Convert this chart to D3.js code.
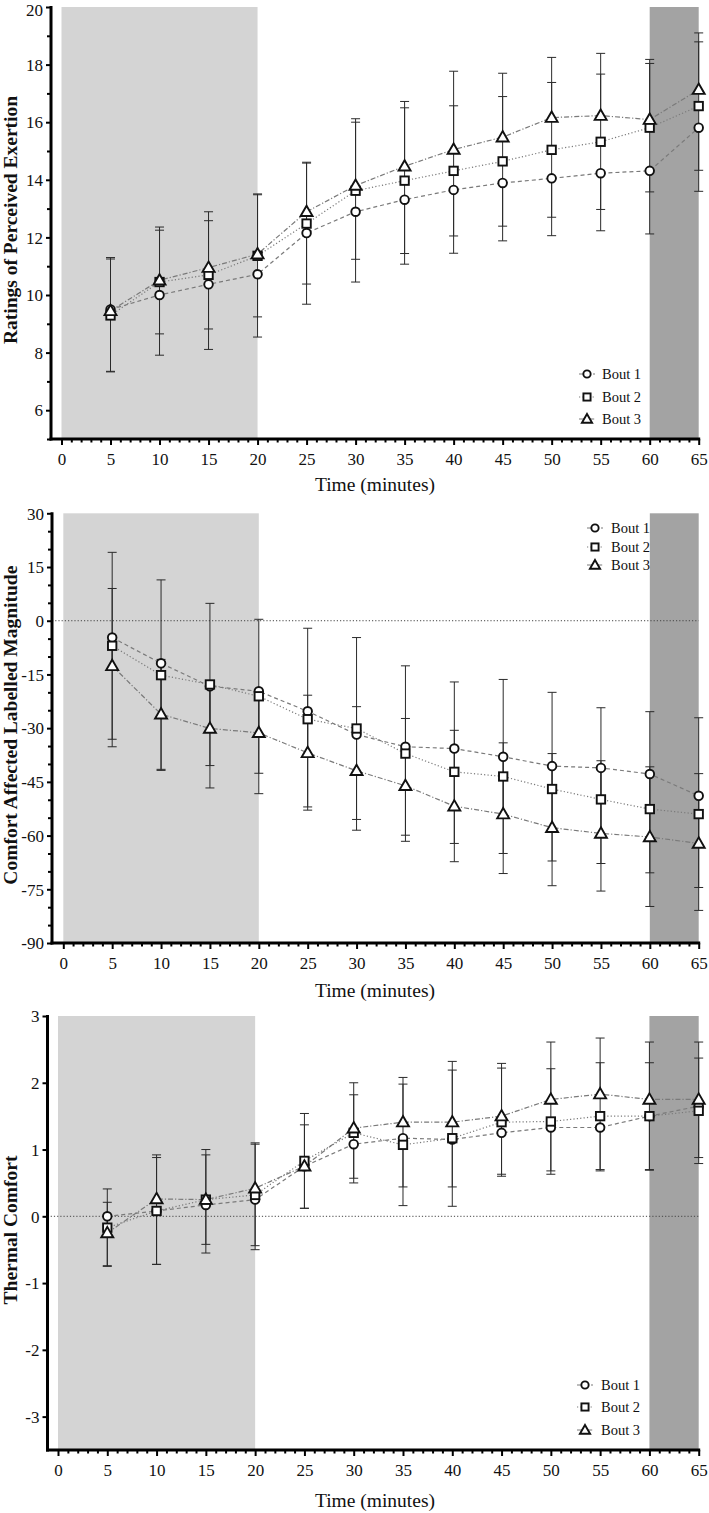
<!DOCTYPE html>
<html>
<head>
<meta charset="utf-8">
<script src="https://cdn.jsdelivr.net/npm/d3@7"></script>
<style>
  html, body { margin: 0; padding: 0; background: #fff; }
  svg { display: block; }
  text { font-family: "Liberation Serif", "Times New Roman", serif; fill: #111; }
</style>
</head>
<body>
<svg id="chart" width="709" height="1513"></svg>
<script>
// ---------- DATA ----------
const times = [5, 10, 15, 20, 25, 30, 35, 40, 45, 50, 55, 60, 65];
const seriesNames = ["Bout 1", "Bout 2", "Bout 3"];

// Ratings of Perceived Exertion
const rpeBout1 = [9.5, 10.0, 10.37, 10.72, 12.15, 12.89, 13.31, 13.65, 13.89, 14.05, 14.23, 14.31, 15.81];
const rpeBout2 = [9.29, 10.45, 10.7, 11.36, 12.48, 13.62, 13.97, 14.31, 14.64, 15.04, 15.32, 15.81, 16.56];
const rpeBout3 = [9.45, 10.51, 10.95, 11.42, 12.89, 13.8, 14.47, 15.05, 15.48, 16.16, 16.23, 16.09, 17.13];
const rpeSd1 = [2.15, 2.09, 2.26, 2.18, 2.47, 2.44, 2.24, 2.2, 2.01, 1.99, 2.0, 2.19, 2.21];
const rpeSd2 = [1.96, 1.8, 1.88, 2.12, 2.1, 2.38, 2.53, 2.26, 2.25, 2.34, 2.35, 2.23, 2.23];
const rpeSd3 = [1.85, 1.85, 1.94, 2.09, 1.72, 2.32, 2.25, 2.72, 2.22, 2.09, 2.16, 2.09, 1.97];
const rpeTicks = [6, 8, 10, 12, 14, 16, 18, 20];

// Comfort Affected Labelled Magnitude
const calmBout1 = [-4.7, -11.9, -18.3, -19.7, -25.3, -31.8, -35.2, -35.7, -38.0, -40.6, -41.1, -42.8, -48.9];
const calmBout2 = [-7.0, -15.2, -17.8, -21.1, -27.5, -30.1, -37.1, -42.2, -43.5, -47.0, -49.9, -52.6, -54.0];
const calmBout3 = [-12.6, -26.1, -30.1, -31.3, -36.9, -41.9, -46.1, -51.8, -54.0, -57.8, -59.4, -60.4, -62.2];
const calmSd1 = [30.5, 29.6, 28.4, 28.6, 26.7, 26.7, 24.7, 26.5, 27.0, 26.5, 26.7, 27.6, 25.6];
const calmSd2 = [26.1, 26.6, 22.65, 21.5, 25.4, 25.4, 24.5, 25.1, 27.1, 27.0, 25.6, 27.2, 26.9];
const calmSd3 = [21.6, 15.3, 12.0, 11.4, 16.1, 17.9, 18.8, 21.2, 19.9, 20.7, 20.3, 19.6, 19.5];
const calmTicks = [-90, -75, -60, -45, -30, -15, 0, 15, 30];

// Thermal Comfort
const tcBout1 = [0.0, 0.08, 0.17, 0.25, 0.75, 1.08, 1.17, 1.15, 1.25, 1.33, 1.33, 1.5, 1.65];
const tcBout2 = [-0.17, 0.08, 0.25, 0.32, 0.83, 1.25, 1.07, 1.17, 1.41, 1.42, 1.5, 1.5, 1.58];
const tcBout3 = [-0.25, 0.26, 0.25, 0.42, 0.75, 1.32, 1.41, 1.41, 1.5, 1.75, 1.83, 1.75, 1.75];
const tcSd1 = [0.74, 0.8, 0.72, 0.75, 0.63, 0.51, 0.73, 0.71, 0.62, 0.65, 0.65, 0.81, 0.77];
const tcSd2 = [0.58, 0.8, 0.67, 0.76, 0.71, 0.75, 0.91, 1.02, 0.81, 0.79, 0.8, 0.8, 0.79];
const tcSd3 = [0.46, 0.66, 0.75, 0.68, 0.62, 0.5, 0.67, 0.91, 0.79, 0.86, 0.84, 0.86, 0.86];
const tcTicks = [-3, -2, -1, 0, 1, 2, 3];

const xTicks = [0, 5, 10, 15, 20, 25, 30, 35, 40, 45, 50, 55, 60, 65];
const warmupBand = [0, 20];
const finalBand = [60, 65];
const xTitle = "Time (minutes)";

// ---------- LAYOUT ----------
const panels = [
  { title: "Ratings of Perceived Exertion", series: [rpeBout1, rpeBout2, rpeBout3], sds: [rpeSd1, rpeSd2, rpeSd3],
    yDomain: [5, 20], yRange: [439, 7], ticks: rpeTicks, minorStep: 1, axisX: 51, x0: 61.5, x65: 698.7,
    zeroLine: false, legend: { x: 587, tx: 602, y: [374, 397, 419] }, tickBase: 465, titleBase: 491 },
  { title: "Comfort Affected Labelled Magnitude", series: [calmBout1, calmBout2, calmBout3], sds: [calmSd1, calmSd2, calmSd3],
    yDomain: [-90, 30], yRange: [943, 513.3], ticks: calmTicks, minorStep: 5, axisX: 52, x0: 63.3, x65: 698.7,
    zeroLine: true, legend: { x: 595, tx: 611, y: [528, 547, 565] }, tickBase: 969, titleBase: 997 },
  { title: "Thermal Comfort", series: [tcBout1, tcBout2, tcBout3], sds: [tcSd1, tcSd2, tcSd3],
    yDomain: [-3.5, 3], yRange: [1450, 1016], ticks: tcTicks, minorStep: null, axisX: 47.5, x0: 58, x65: 698.7,
    zeroLine: true, legend: { x: 585, tx: 601, y: [1385, 1407, 1430] }, tickBase: 1476, titleBase: 1507 }
];

const errDir = ["below", "both", "above"];
const dashes = ["4,3", "1.2,2.2", "5,2,1.2,2"];
const lineColor = "#7a7a7a";
const fmt = d => String(d);

const svg = d3.select("#chart");

function drawMarker(g, type, cx, cy, size) {
  const s = size || 1;
  if (type === 0) {
    g.append("circle").attr("cx", cx).attr("cy", cy).attr("r", 4.3 * s)
      .attr("fill", "#fff").attr("stroke", "#111").attr("stroke-width", 1.9);
  } else if (type === 1) {
    const h = 4.2 * s;
    g.append("rect").attr("x", cx - h).attr("y", cy - h).attr("width", 2 * h).attr("height", 2 * h)
      .attr("fill", "#fff").attr("stroke", "#111").attr("stroke-width", 1.9);
  } else {
    const sym = d3.symbol().type(d3.symbolTriangle).size(62 * s * s);
    g.append("path").attr("d", sym()).attr("transform", `translate(${cx},${cy + 0.8})`)
      .attr("fill", "#fff").attr("stroke", "#111").attr("stroke-width", 1.9);
  }
}

panels.forEach(p => {
  const x = d3.scaleLinear().domain([0, 65]).range([p.x0, p.x65]);
  const y = d3.scaleLinear().domain(p.yDomain).range(p.yRange);
  const g = svg.append("g");
  const yTop = p.yRange[1], yBot = p.yRange[0];

  // shaded bands
  g.append("rect").attr("x", x(warmupBand[0])).attr("y", yTop)
    .attr("width", x(warmupBand[1]) - x(warmupBand[0])).attr("height", yBot - yTop).attr("fill", "#d4d4d4");
  g.append("rect").attr("x", x(finalBand[0])).attr("y", yTop)
    .attr("width", x(finalBand[1]) - x(finalBand[0])).attr("height", yBot - yTop).attr("fill", "#a3a3a3");

  if (p.zeroLine) {
    g.append("line").attr("x1", p.axisX).attr("x2", x(65)).attr("y1", y(0)).attr("y2", y(0))
      .attr("stroke", "#444").attr("stroke-width", 1).attr("stroke-dasharray", "1.2,2");
  }

  // series lines
  p.series.forEach((vals, si) => {
    const line = d3.line().x((d, i) => x(times[i])).y(d => y(d));
    g.append("path").datum(vals).attr("d", line).attr("fill", "none")
      .attr("stroke", lineColor).attr("stroke-width", 1.2).attr("stroke-dasharray", dashes[si]);
  });

  // error bars
  p.series.forEach((vals, si) => {
    vals.forEach((v, i) => {
      const sd = p.sds[si][i];
      const cx = x(times[i]);
      const top = errDir[si] === "below" ? v : v + sd;
      const bot = errDir[si] === "above" ? v : v - sd;
      g.append("line").attr("x1", cx).attr("x2", cx).attr("y1", y(top)).attr("y2", y(bot))
        .attr("stroke", "#2a2a2a").attr("stroke-width", 1);
      if (errDir[si] !== "below")
        g.append("line").attr("x1", cx - 4.5).attr("x2", cx + 4.5).attr("y1", y(top)).attr("y2", y(top))
          .attr("stroke", "#2a2a2a").attr("stroke-width", 1);
      if (errDir[si] !== "above")
        g.append("line").attr("x1", cx - 4.5).attr("x2", cx + 4.5).attr("y1", y(bot)).attr("y2", y(bot))
          .attr("stroke", "#2a2a2a").attr("stroke-width", 1);
    });
  });

  // markers
  p.series.forEach((vals, si) => {
    vals.forEach((v, i) => drawMarker(g, si, x(times[i]), y(v)));
  });

  // y axis
  const yAxis = d3.axisLeft(y).tickValues(p.ticks).tickSize(5).tickSizeOuter(0).tickFormat(fmt);
  const ya = g.append("g").attr("transform", `translate(${p.axisX},0)`).call(yAxis);
  ya.select(".domain").attr("stroke", "#000").attr("stroke-width", 3)
    .attr("d", `M0,${yTop - 1}V${yBot + 1.5}`);
  ya.selectAll(".tick line").attr("stroke", "#000").attr("stroke-width", 2);
  ya.selectAll(".tick text").attr("x", -8).attr("font-size", 17)
    .attr("font-family", "Liberation Serif, serif").attr("fill", "#222")
    .attr("dy", d => (y(d) < 10 ? "0.5em" : "0.34em"));
  if (p.minorStep) {
    const minors = d3.range(p.yDomain[0], p.yDomain[1] + 0.001, p.minorStep).filter(v => !p.ticks.includes(v));
    const ym = g.append("g").attr("transform", `translate(${p.axisX},0)`)
      .call(d3.axisLeft(y).tickValues(minors).tickSize(4).tickFormat(""));
    ym.select(".domain").remove();
    ym.selectAll(".tick line").attr("stroke", "#000").attr("stroke-width", 2);
  }

  // x axis
  const xAxis = d3.axisBottom(x).tickValues(xTicks).tickSize(6).tickSizeOuter(0).tickFormat(fmt);
  const xa = g.append("g").attr("transform", `translate(0,${yBot})`).call(xAxis);
  xa.select(".domain").attr("stroke", "#000").attr("stroke-width", 3)
    .attr("d", `M${p.axisX - 1.5},0H${x(65) + 1.5}`);
  xa.selectAll(".tick line").attr("stroke", "#000").attr("stroke-width", 2);
  xa.selectAll(".tick text").attr("y", null).attr("dy", null)
    .attr("transform", `translate(0,${p.tickBase - yBot})`)
    .attr("font-size", 17).attr("font-family", "Liberation Serif, serif").attr("fill", "#222");
  const xMinor = d3.range(0, 66, 1).filter(v => v % 5 !== 0);
  const xm = g.append("g").attr("transform", `translate(0,${yBot})`)
    .call(d3.axisBottom(x).tickValues(xMinor).tickSize(3.5).tickFormat(""));
  xm.select(".domain").remove();
  xm.selectAll(".tick line").attr("stroke", "#000").attr("stroke-width", 2);

  // titles
  g.append("text").attr("x", 375).attr("y", p.titleBase).attr("text-anchor", "middle")
    .attr("font-size", 19.5).text(xTitle);
  const yMid = (yTop + yBot) / 2 - 3;
  g.append("text").attr("transform", `translate(17,${yMid}) rotate(-90)`).attr("text-anchor", "middle")
    .attr("font-size", 19.5).attr("font-weight", "bold").text(p.title);

  // legend
  seriesNames.forEach((name, si) => {
    const ly = p.legend.y[si];
    g.append("line").attr("x1", p.legend.x - 8).attr("x2", p.legend.x + 8).attr("y1", ly).attr("y2", ly)
      .attr("stroke", lineColor).attr("stroke-width", 1.2).attr("stroke-dasharray", dashes[si]);
    drawMarker(g, si, p.legend.x, ly, 0.85);
    g.append("text").attr("x", p.legend.tx).attr("y", ly).attr("dy", "0.34em")
      .attr("font-size", 14.5).attr("fill", "#222").text(name);
  });
});
</script>
</body>
</html>
